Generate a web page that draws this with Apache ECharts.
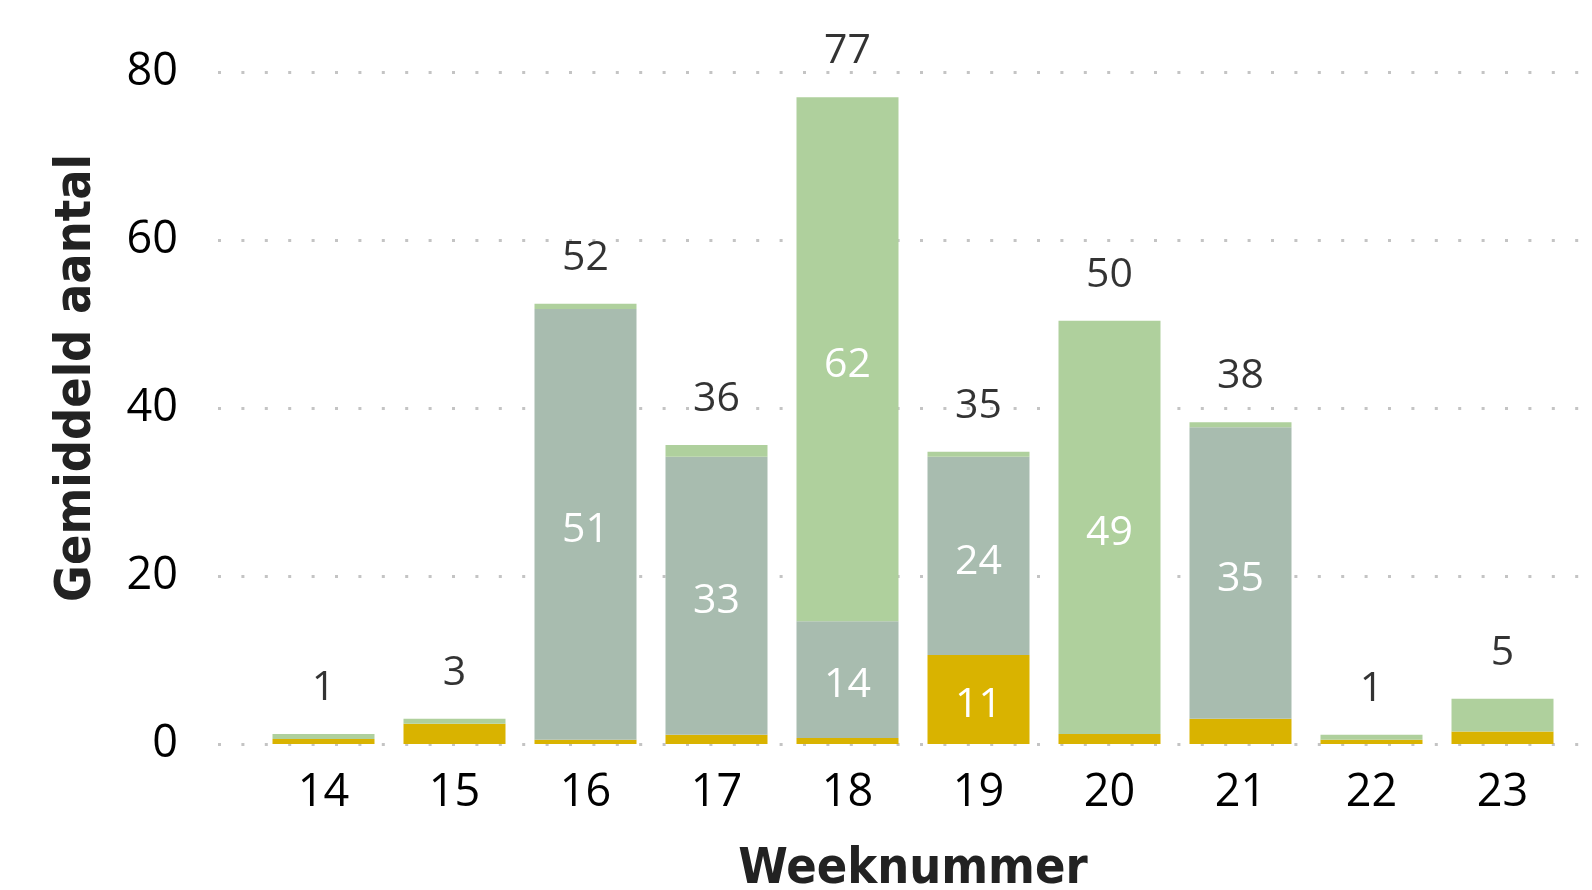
<!DOCTYPE html>
<html>
<head>
<meta charset="utf-8">
<script src="https://cdn.jsdelivr.net/npm/echarts@6/dist/echarts.min.js"></script>
<style>
  html, body { margin: 0; padding: 0; background: #fff; }
  #chart { width: 1592px; height: 890px; }
</style>
</head>
<body>
<div id="chart"></div>
<script>
// weken en de drie gestapelde reeksen (onder -> boven)
var weeks = ['14', '15', '16', '17', '18', '19', '20', '21', '22', '23'];
var geel = [0.6, 2.4, 0.5, 1.1, 0.7, 10.6, 1.2, 3.0, 0.5, 1.5];
var grijs = [0, 0, 51.3, 33.1, 13.9, 23.6, 0, 34.7, 0, 0];
var groen = [0.6, 0.6, 0.6, 1.4, 62.4, 0.6, 49.2, 0.6, 0.6, 3.9];
var yTicks = [0, 20, 40, 60, 80];

var totals = weeks.map(function (w, i) {
    return geel[i] + grijs[i] + groen[i];
});

var numFont = "'Open Sans', 'Noto Sans', sans-serif";
var titleFont = "'DejaVu Sans Condensed', 'DejaVu Sans', sans-serif";
var gridTop = 72, gridBottom = 146;

var innerLabel = {
    show: true,
    position: 'inside',
    offset: [0, 6],
    color: '#fff',
    fontFamily: numFont,
    fontSize: 41,
    formatter: function (p) {
        return p.value >= 8 ? Math.round(p.value) : '';
    }
};

function barSerie(name, arr, color) {
    return {
        name: name,
        type: 'bar',
        stack: 'totaal',
        barWidth: 102,
        data: arr,
        itemStyle: { color: color },
        label: innerLabel,
        silent: true
    };
}

var chart = echarts.init(document.getElementById('chart'));
chart.setOption({
    backgroundColor: '#ffffff',
    animation: false,
    grid: [
        // staven
        { left: 258, right: 24, top: gridTop, bottom: gridBottom, outerBoundsMode: 'none', containLabel: false },
        // rasterlijnen en y-as labels (iets breder)
        { left: 218, right: 0, top: gridTop, bottom: gridBottom, outerBoundsMode: 'none', containLabel: false }
    ],
    xAxis: [{
        type: 'category',
        gridIndex: 0,
        data: weeks,
        name: 'Weeknummer',
        nameLocation: 'middle',
        nameGap: 101,
        nameTextStyle: { fontFamily: titleFont, fontWeight: 'bold', fontSize: 50, color: '#222' },
        axisLine: { show: false },
        axisTick: { show: false },
        splitLine: { show: false },
        axisLabel: {
            margin: 27,
            fontFamily: numFont,
            fontSize: 45,
            color: '#000'
        }
    }, {
        type: 'value',
        gridIndex: 1,
        min: 0,
        max: 1,
        show: false
    }],
    yAxis: [{
        type: 'value',
        gridIndex: 0,
        min: yTicks[0],
        max: yTicks[yTicks.length - 1],
        interval: 20,
        show: false,
        splitLine: { show: false }
    }, {
        type: 'value',
        gridIndex: 1,
        min: yTicks[0],
        max: yTicks[yTicks.length - 1],
        interval: 20,
        name: 'Gemiddeld aantal',
        nameLocation: 'middle',
        nameGap: 116,
        nameTextStyle: {
            fontFamily: titleFont, fontWeight: 'bold', fontSize: 50, color: '#222',
            padding: [0, 0, 0, 60]
        },
        axisLine: { show: false },
        axisTick: { show: false },
        axisLabel: { margin: 40, fontFamily: numFont, fontSize: 45, color: '#000' },
        splitLine: {
            show: true,
            lineStyle: { color: '#c4c4c4', width: 3, type: [3, 20.4] }
        }
    }],
    series: [
        barSerie('geel', geel, '#D9B300'),
        barSerie('grijs', grijs, '#A8BCAF'),
        barSerie('groen', groen, '#AFD09D'),
        {
            name: 'totaal',
            type: 'scatter',
            symbolSize: 0,
            data: totals,
            silent: true,
            label: {
                show: true,
                position: 'top',
                distance: 25,
                fontFamily: numFont,
                fontSize: 41,
                color: '#000',
                formatter: function (p) { return Math.round(p.value); }
            }
        }
    ]
});
</script>
</body>
</html>
